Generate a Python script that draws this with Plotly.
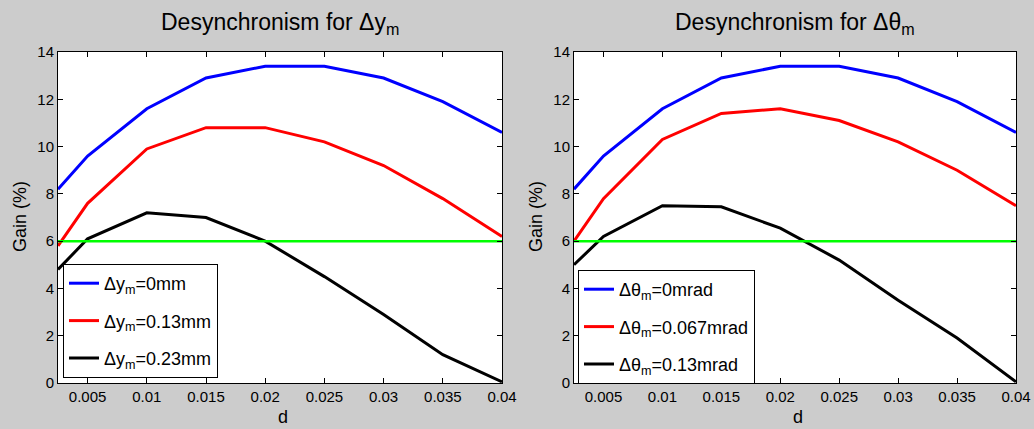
import plotly.graph_objects as go

d = [0.0025, 0.005, 0.01, 0.015, 0.02, 0.025, 0.03, 0.035, 0.04]

# Left panel: Δy_m
left_names = ["Δy<sub>m</sub>=0mm", "Δy<sub>m</sub>=0.13mm", "Δy<sub>m</sub>=0.23mm"]
left_0 = [8.2, 9.6, 11.6, 12.9, 13.4, 13.4, 12.9, 11.9, 10.6]
left_013 = [5.8, 7.6, 9.9, 10.8, 10.8, 10.2, 9.2, 7.8, 6.2]
left_023 = [4.8, 6.1, 7.2, 7.0, 6.0, 4.5, 2.9, 1.2, 0.05]

# Right panel: Δθ_m
right_names = ["Δθ<sub>m</sub>=0mrad", "Δθ<sub>m</sub>=0.067mrad", "Δθ<sub>m</sub>=0.13mrad"]
right_0 = [8.2, 9.6, 11.6, 12.9, 13.4, 13.4, 12.9, 11.9, 10.6]
right_0067 = [6.0, 7.8, 10.3, 11.4, 11.6, 11.1, 10.2, 9.0, 7.5]
right_013 = [5.0, 6.2, 7.5, 7.45, 6.55, 5.2, 3.5, 1.9, 0.05]

threshold = [6.0] * len(d)

x_ticks = [0.005, 0.01, 0.015, 0.02, 0.025, 0.03, 0.035, 0.04]
x_ticktext = ["0.005", "0.01", "0.015", "0.02", "0.025", "0.03", "0.035", "0.04"]
y_ticks = [0, 2, 4, 6, 8, 10, 12, 14]

titles = ["Desynchronism for Δy<sub>m</sub>", "Desynchronism for Δθ<sub>m</sub>"]

colors = ["#0000ff", "#ff0000", "#000000"]
FONT = "Liberation Sans, Arial, sans-serif"

W, H = 1034, 429
fig = go.Figure()

panels = [
    (left_names, [left_0, left_013, left_023], "x", "y", "legend"),
    (right_names, [right_0, right_0067, right_013], "x2", "y2", "legend2"),
]
for p, (names, series, xa, ya, lg) in enumerate(panels):
    for k, (nm, ys, c) in enumerate(zip(names, series, colors)):
        fig.add_trace(go.Scatter(x=d, y=ys, mode="lines", name=nm,
                                 line=dict(color=c, width=3),
                                 legendgroup=f"g{p}{k}",
                                 xaxis=xa, yaxis=ya, legend=lg))
    fig.add_trace(go.Scatter(x=d, y=threshold, mode="lines", showlegend=False,
                             line=dict(color="#00ff00", width=2.5),
                             xaxis=xa, yaxis=ya))

doms_x = [[58 / W, 502 / W], [574 / W, 1016 / W]]
dom_y = [(H - 383) / H, (H - 52) / H]

axis_common = dict(showline=True, linecolor="black", linewidth=1, mirror="allticks",
                   ticks="inside", ticklen=5, tickcolor="black", showgrid=False,
                   zeroline=False, automargin=False,
                   tickfont=dict(family=FONT, size=15, color="black"))

leg_common = dict(xanchor="left", yanchor="bottom",
                  bgcolor="white", bordercolor="black", borderwidth=1,
                  font=dict(family=FONT, size=18, color="black"),
                  tracegroupgap=11, itemwidth=30)

fig.update_layout(
    autosize=True,
    margin=dict(l=0, r=0, t=0, b=0, pad=0, autoexpand=False),
    paper_bgcolor="#cccccc", plot_bgcolor="white",
    font=dict(family=FONT, color="black"),
    xaxis=dict(domain=doms_x[0], range=[0.0025, 0.04], tickvals=x_ticks,
               ticktext=x_ticktext, anchor="y", **axis_common),
    yaxis=dict(domain=dom_y, range=[0, 14], tickvals=y_ticks, anchor="x", **axis_common),
    xaxis2=dict(domain=doms_x[1], range=[0.0025, 0.04], tickvals=x_ticks,
                ticktext=x_ticktext, anchor="y2", **axis_common),
    yaxis2=dict(domain=dom_y, range=[0, 14], tickvals=y_ticks, anchor="x2", **axis_common),
    legend=dict(x=63 / W, y=(H - 378) / H, **leg_common),
    legend2=dict(x=578 / W, y=(H - 384) / H, **leg_common),
    showlegend=True,
)

annotations = []
for i, (xc, t) in enumerate(zip([280, 795], titles)):
    annotations.append(dict(text=t, x=xc / W, y=1 - 24 / H, xref="paper", yref="paper",
                            showarrow=False, font=dict(family=FONT, size=23, color="black"),
                            xanchor="center", yanchor="middle"))
    annotations.append(dict(text="d", x=(xc + 3) / W, y=1 - 428 / H, xref="paper",
                            yref="paper", showarrow=False, borderpad=0,
                            font=dict(family=FONT, size=18, color="black"),
                            xanchor="center", yanchor="bottom"))
for xg in [20, 536]:
    annotations.append(dict(text="Gain (%)", x=xg / W, y=1 - 217 / H, xref="paper",
                            yref="paper", showarrow=False, textangle=-90,
                            font=dict(family=FONT, size=18, color="black"),
                            xanchor="center", yanchor="middle"))
fig.update_layout(annotations=annotations)

fig.write_html(
    "out.html",
    config={"displayModeBar": False, "responsive": True},
    default_width="100vw",
    default_height="100vh",
    post_script=("document.body.style.margin='0';"
                 "document.body.style.overflow='hidden';"
                 "document.documentElement.style.overflow='hidden';"),
)
